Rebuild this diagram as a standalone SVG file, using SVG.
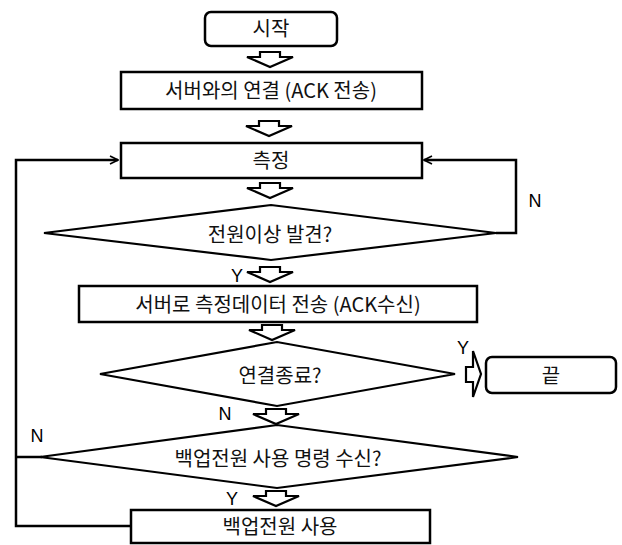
<svg xmlns="http://www.w3.org/2000/svg" width="622" height="545" viewBox="0 0 622 545">
  <style>
    .box { fill: #fff; stroke: #000; stroke-width: 2.5; }
    .dia { fill: #fff; stroke: #000; stroke-width: 2.2; }
    .blk { fill: #fff; stroke: #000; stroke-width: 2.2; stroke-linejoin: miter; }
    .wire { fill: none; stroke: #000; stroke-width: 2.5; }
    .lbl { font-family: "Noto Sans CJK KR", "Noto Sans", sans-serif; font-size: 20px; fill: #111; text-anchor: middle; }
    .yn { font-family: "Liberation Sans", Arial, sans-serif; font-size: 18px; fill: #000; text-anchor: middle; }
  </style>
  <defs>
    <!-- hollow block arrow pointing down, tip at (0,15) -->
    <path id="down" d="M -10 0 H 10 V 5 H 23 L 0 15 L -23 5 H -10 Z"/>
    <marker id="open" viewBox="0 0 10 10" refX="9" refY="5" markerWidth="4" markerHeight="4" orient="auto" markerUnits="strokeWidth">
      <path d="M 1 1 L 9 5 L 1 9" fill="none" stroke="#000" stroke-width="1.6"/>
    </marker>
  </defs>

  <g id="connectors">
    <!-- block arrows between steps -->
    <use href="#down" class="blk" x="270" y="52"/>
    <use href="#down" class="blk" x="269" y="121"/>
    <use href="#down" class="blk" x="270" y="183"/>
    <use href="#down" class="blk" x="270" y="267"/>
    <use href="#down" class="blk" x="272" y="325"/>
    <use href="#down" class="blk" x="276" y="409"/>
    <use href="#down" class="blk" x="276" y="491"/>
    <!-- Y branch to end -->
    <path class="blk" d="M 466 367 H 473 V 351 L 481 374 L 473 397 V 382 H 466 Z"/>
    <!-- N loop back from first decision -->
    <path class="wire" d="M 496 233 H 516 V 160 H 424" marker-end="url(#open)"/>
    <!-- loop back from backup power / N of last decision -->
    <path class="wire" d="M 131 526 H 16 V 160 H 118" marker-end="url(#open)"/>
    <path class="wire" d="M 16 457 H 42"/>
    <text class="yn" x="535" y="207">N</text>
    <text class="yn" x="237" y="282">Y</text>
    <text class="yn" x="463" y="354">Y</text>
    <text class="yn" x="225" y="420">N</text>
    <text class="yn" x="37" y="442">N</text>
    <text class="yn" x="232" y="505">Y</text>
  </g>

  <g id="start">
    <rect class="box" x="205" y="12" width="132" height="34" rx="6"/>
    <text class="lbl" x="271" y="36">시작</text>
  </g>
  <g id="connect">
    <rect class="box" x="121" y="72" width="301" height="37"/>
    <text class="lbl" x="271" y="98">서버와의 연결 (ACK 전송)</text>
  </g>
  <g id="measure">
    <rect class="box" x="121" y="143" width="301" height="35"/>
    <text class="lbl" x="271" y="168">측정</text>
  </g>
  <g id="fault-check">
    <polygon class="dia" points="44,233 271,205 496,233 271,260"/>
    <text class="lbl" x="270" y="242">전원이상 발견?</text>
  </g>
  <g id="send-data">
    <rect class="box" x="79" y="286" width="398" height="36"/>
    <text class="lbl" x="278" y="312">서버로 측정데이터 전송 (ACK수신)</text>
  </g>
  <g id="close-check">
    <polygon class="dia" points="100,374 277,342 455,374 277,406"/>
    <text class="lbl" x="280" y="383">연결종료?</text>
  </g>
  <g id="end">
    <rect class="box" x="486" y="357" width="130" height="36" rx="6"/>
    <text class="lbl" x="551" y="383">끝</text>
  </g>
  <g id="backup-check">
    <polygon class="dia" points="40,457 277,425 518,457 277,488"/>
    <text class="lbl" x="278" y="466">백업전원 사용 명령 수신?</text>
  </g>
  <g id="backup-use">
    <rect class="box" x="131" y="510" width="299" height="33"/>
    <text class="lbl" x="280" y="534">백업전원 사용</text>
  </g>
</svg>
